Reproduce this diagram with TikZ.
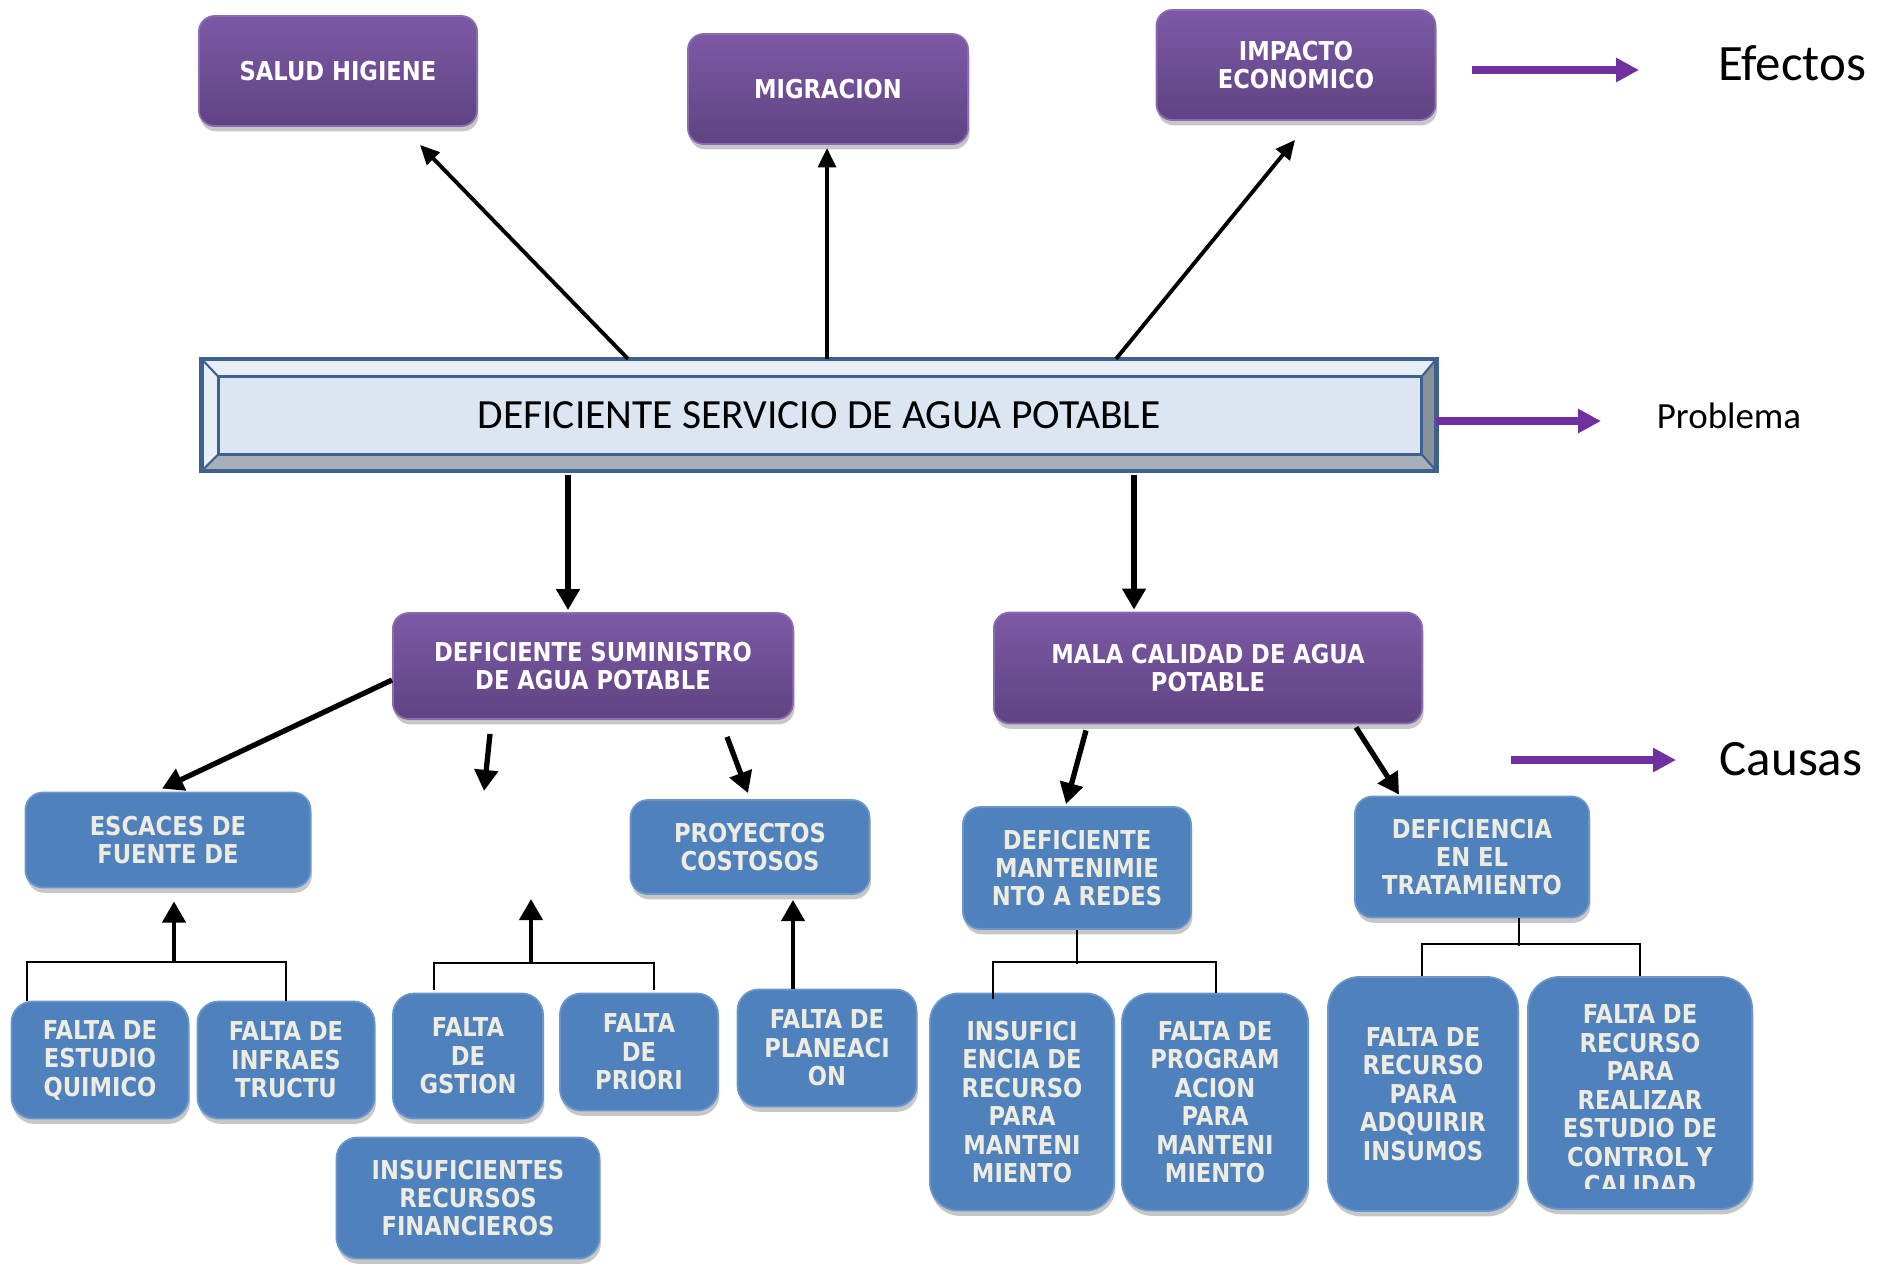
\documentclass[tikz,border=0pt]{standalone}
\usepackage{fontspec}
\setmainfont{Carlito}
\newfontfamily\boxfont{DejaVu Sans}[FakeStretch=0.87]
\usetikzlibrary{arrows.meta,shadows,calc}

\definecolor{moradoA}{HTML}{7D59A6}
\definecolor{moradoB}{HTML}{5F4382}
\definecolor{moradoC}{HTML}{8A6DB0}
\definecolor{azulcaja}{HTML}{4F81BD}
\definecolor{azulborde}{HTML}{6A96CC}
\definecolor{crema}{HTML}{EEECE1}
\definecolor{violeta}{HTML}{7030A0}
\definecolor{probfondo}{HTML}{DCE6F2}
\definecolor{probborde}{HTML}{3F6190}
\definecolor{probclaro}{HTML}{E8EEF6}
\definecolor{probgris}{HTML}{A7AFB9}
\definecolor{probosc}{HTML}{8A9199}

\begin{document}
\begin{tikzpicture}[x=0.01cm, y=-0.01cm,
    efecto/.style={rectangle, rounded corners=4.5pt, draw=moradoC, line width=0.5pt, top color=moradoA, bottom color=moradoB, text=white, font=\boxfont\bfseries\fontsize{7.4}{8.1}\selectfont, align=center, inner sep=2pt, drop shadow={shadow xshift=0.4pt, shadow yshift=-1.5pt, fill=black!22, opacity=1}},
    causa/.style={rectangle, rounded corners=5pt, draw=azulborde, line width=0.5pt, fill=azulcaja, text=crema, font=\boxfont\bfseries\fontsize{7.4}{8.1}\selectfont, align=center, inner sep=2pt, drop shadow={shadow xshift=0.4pt, shadow yshift=-1.5pt, fill=black!22, opacity=1}},
    textocausa/.style={text=crema, font=\boxfont\bfseries\fontsize{7.4}{8.1}\selectfont, align=center, inner sep=0pt},
    flecha/.style={-{Triangle[length=5.5pt, width=5pt]}, line width=1.1pt},
    flechagruesa/.style={-{Triangle[length=6pt, width=6.5pt]}, line width=1.5pt},
    rama/.style={line width=0.6pt},
    leyenda/.style={-{Triangle[length=6.5pt, width=6.5pt]}, line width=2.2pt, draw=violeta},
    leyendatxt/.style={font=\fontsize{14.5}{17}\selectfont}]

    \useasboundingbox (0,0) rectangle (1880,1266);

    % efectos
    \node[efecto, minimum width=2.78cm, minimum height=1.10cm] (salud) at (338,71) {SALUD HIGIENE};
    \node[efecto, minimum width=2.80cm, minimum height=1.10cm] (migracion) at (828,89) {MIGRACION};
    \node[efecto, minimum width=2.79cm, minimum height=1.10cm] (impacto) at (1296,65) {IMPACTO\\ECONOMICO};

    % problema
    \node[rectangle, fill=probfondo, draw=probborde, line width=1.2pt, minimum width=12.30cm, minimum height=1.08cm, inner sep=0pt, font=\fontsize{11.8}{13}\selectfont] (problema) at (819,415) {DEFICIENTE SERVICIO DE AGUA POTABLE};
    \fill[probclaro] (problema.north west) -- (problema.north east) -- ($(problema.north east)+(-15,18)$) -- ($(problema.north west)+(17,18)$) -- cycle;
    \fill[probclaro] (problema.north west) -- ($(problema.north west)+(17,18)$) -- ($(problema.south west)+(17,-17)$) -- (problema.south west) -- cycle;
    \fill[probgris] (problema.south west) -- (problema.south east) -- ($(problema.south east)+(-15,-17)$) -- ($(problema.south west)+(17,-17)$) -- cycle;
    \fill[probosc] (problema.north east) -- (problema.south east) -- ($(problema.south east)+(-15,-17)$) -- ($(problema.north east)+(-15,18)$) -- cycle;
    \draw[probborde, line width=0.6pt] (problema.north west) -- ($(problema.north west)+(17,18)$)
        (problema.north east) -- ($(problema.north east)+(-15,18)$)
        (problema.south west) -- ($(problema.south west)+(17,-17)$)
        (problema.south east) -- ($(problema.south east)+(-15,-17)$);
    \draw[probborde, line width=0.9pt] ($(problema.north west)+(17,18)$) rectangle ($(problema.south east)+(-15,-17)$);
    \draw[probborde, line width=1.2pt] (problema.north west) rectangle (problema.south east);

    % causas
    \node[efecto, minimum width=4.00cm, minimum height=1.06cm] (suministro) at (593,666) {DEFICIENTE SUMINISTRO\\DE AGUA POTABLE};
    \node[efecto, minimum width=4.28cm, minimum height=1.11cm] (mala) at (1208,668) {MALA CALIDAD DE AGUA\\POTABLE};

    \node[causa, minimum width=2.85cm, minimum height=0.95cm] (escaces) at (168,840) {ESCACES DE\\FUENTE DE};
    \node[causa, minimum width=2.39cm, minimum height=0.94cm] (proyectos) at (750,847) {PROYECTOS\\COSTOSOS};
    \node[causa, minimum width=2.28cm, minimum height=1.22cm] (mant) at (1077,868) {DEFICIENTE\\MANTENIMIE\\NTO A REDES};
    \node[causa, minimum width=2.34cm, minimum height=1.21cm] (tratamiento) at (1472,857) {DEFICIENCIA\\EN EL\\TRATAMIENTO};

    \node[causa, rounded corners=6pt, minimum width=1.77cm, minimum height=1.17cm] (estudio) at (100,1060) {FALTA DE\\ESTUDIO\\QUIMICO};
    \node[causa, rounded corners=6pt, minimum width=1.77cm, minimum height=1.17cm] (infraes) at (286,1060) {FALTA DE\\INFRAES\\TRUCTU};
    \node[causa, rounded corners=6pt, minimum width=1.50cm, minimum height=1.25cm] (gstion) at (468,1056) {FALTA\\DE\\GSTION};
    \node[causa, rounded corners=6pt, minimum width=1.58cm, minimum height=1.17cm] (priori) at (639,1052) {FALTA\\DE\\PRIORI};
    \node[causa, rounded corners=6pt, minimum width=1.79cm, minimum height=1.17cm] (planeaci) at (827,1048) {FALTA DE\\PLANEACI\\ON};
    \node[causa, rounded corners=6pt, minimum width=2.63cm, minimum height=1.21cm] (financieros) at (468,1198) {INSUFICIENTES\\RECURSOS\\FINANCIEROS};
    \node[causa, rounded corners=8pt, minimum width=1.84cm, minimum height=2.17cm] (insufici) at (1022,1102) {INSUFICI\\ENCIA DE\\RECURSO\\PARA\\MANTENI\\MIENTO};
    \node[causa, rounded corners=8pt, minimum width=1.86cm, minimum height=2.17cm] (program) at (1215,1102) {FALTA DE\\PROGRAM\\ACION\\PARA\\MANTENI\\MIENTO};
    \node[causa, rounded corners=9pt, minimum width=1.90cm, minimum height=2.34cm] (adquirir) at (1423,1094) {FALTA DE\\RECURSO\\PARA\\ADQUIRIR\\INSUMOS};
    \node[causa, rounded corners=9pt, minimum width=2.24cm, minimum height=2.32cm] (realizar) at (1640,1093) {};
    \begin{scope}
        \clip (1528,977) rectangle (1752,1188);
        \node[textocausa] (realizartxt) at (1640,1100) {FALTA DE\\RECURSO\\PARA\\REALIZAR\\ESTUDIO DE\\CONTROL Y\\CALIDAD};
    \end{scope}

    % flechas a efectos
    \draw[flecha] ($(problema.north)+(-191,0)$) -- ($(salud.south)+(82,18)$);
    \draw[flecha] ($(problema.north)+(8,0)$) -- ($(migracion.south)+(-1,3)$);
    \draw[flecha] ($(problema.north)+(297,0)$) -- ($(impacto.south)+(-1,19)$);

    % flechas a causas
    \draw[flechagruesa] ($(problema.south)+(-251,4)$) -- ($(suministro.north)+(-25,-2)$);
    \draw[flechagruesa] ($(problema.south)+(315,4)$) -- ($(mala.north)+(-74,-2)$);

    \coordinate (vacioA) at (484,791);
    \draw[flechagruesa] ($(suministro.west)+(0,14)$) -- ($(escaces.north)+(-6,-3)$);
    \draw[flechagruesa] ($(suministro.south)+(-103,14)$) -- (vacioA);
    \draw[flechagruesa] ($(suministro.south)+(134,17)$) -- ($(proyectos.north)+(-2,-6)$);
    \draw[flechagruesa] ($(mala.south)+(-122,6)$) -- ($(mant.north)+(-11,-2)$);
    \draw[flechagruesa] ($(mala.south)+(148,3)$) -- ($(tratamiento.north)+(-73,-1)$);

    % ramas de abajo
    \coordinate (ramaA) at (174,963);
    \coordinate (ramaB) at (531,963);
    \coordinate (vacioB) at (531,899);
    \draw[rama] ($(estudio.north)+(-73,0)$) |- ($(infraes.north)+(0,-39)$) -- (infraes.north);
    \draw[flechagruesa, line width=1.3pt] (ramaA) -- ($(escaces.south)+(6,13)$);
    \draw[rama] ($(gstion.north)+(-34,-3)$) |- ($(priori.north)+(15,-30)$) -- ($(priori.north)+(15,-3)$);
    \draw[flechagruesa, line width=1.3pt] (ramaB) -- (vacioB);
    \draw[flechagruesa, line width=1.3pt] ($(planeaci.north)+(-34,0)$) -- ($(proyectos.south)+(43,5)$);
    \draw[rama] (mant.south) -- ++(0,34);
    \draw[rama] ($(insufici.north)+(-29,6)$) |- ($(program.north)+(1,-31)$) -- ($(program.north)+(1,0)$);
    \draw[rama] ($(tratamiento.south)+(47,0)$) -- ++(0,28);
    \draw[rama] ($(adquirir.north)+(-1,0)$) |- ($(realizar.north)+(0,-32)$) -- (realizar.north);

    % leyenda
    \node[leyendatxt] (efectos) at (1792,63) {Efectos};
    \node[font=\fontsize{10.5}{13}\selectfont] (problemalbl) at (1729,416) {Problema};
    \node[leyendatxt] (causas) at (1791,759) {Causas};
    \coordinate (efA) at (1472,70);
    \coordinate (efB) at (1639,70);
    \coordinate (prB) at (1601,421);
    \coordinate (caA) at (1511,760);
    \coordinate (caB) at (1676,760);
    \draw[leyenda] (efA) -- (efB);
    \draw[leyenda] (problema.east |- prB) -- (prB);
    \draw[leyenda] (caA) -- (caB);
\end{tikzpicture}
\end{document}
